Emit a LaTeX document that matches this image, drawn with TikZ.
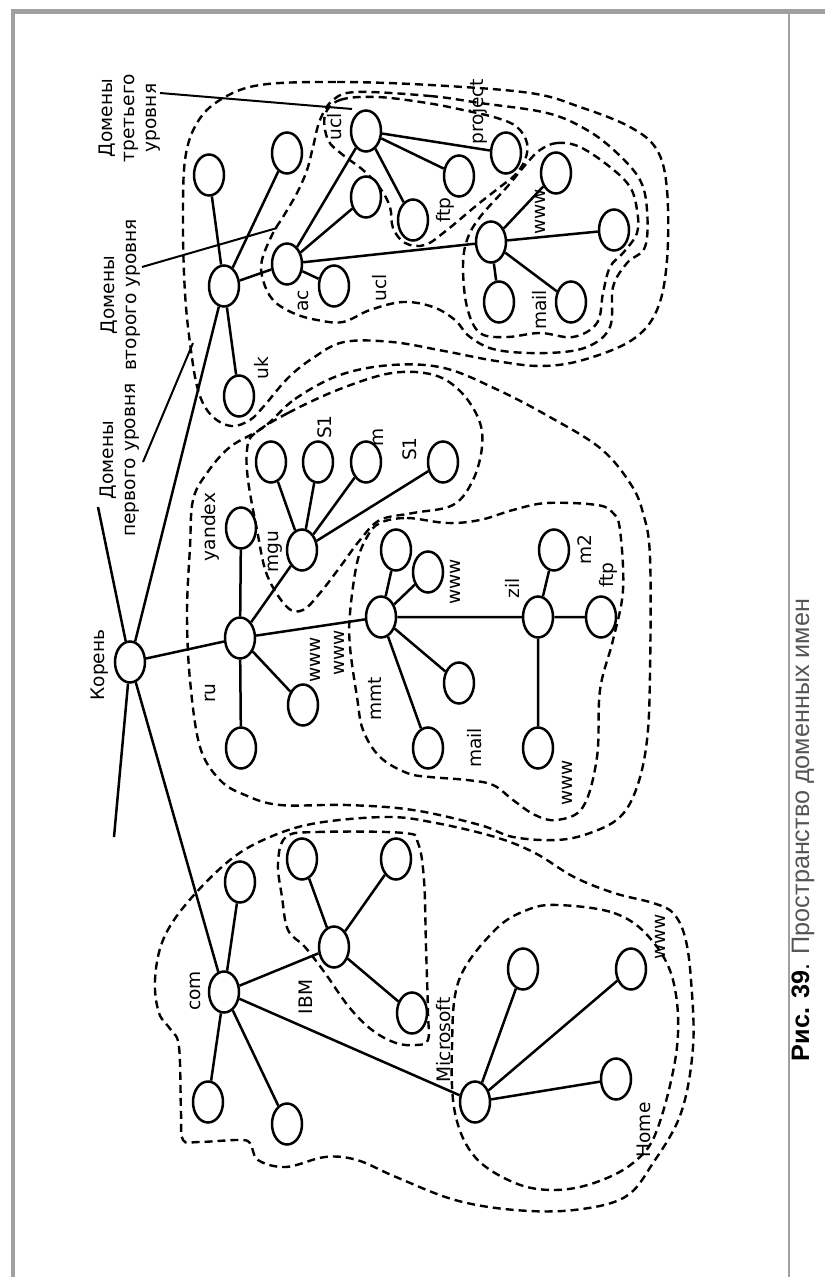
\documentclass[tikz,border=0pt]{standalone}
\usepackage{fontspec}
\setmainfont{DejaVu Sans}
\newfontfamily\capfont{Liberation Sans}
\usetikzlibrary{shapes.geometric}

\definecolor{framegray}{HTML}{A0A0A0}
\definecolor{capgray}{HTML}{555555}

\begin{document}
\begin{tikzpicture}[x=0.5pt, y=-0.5pt, line width=1.25pt,
        dom/.style={draw, ellipse, fill=white, minimum width=15pt, minimum height=20.5pt, inner sep=0pt},
        lbl/.style={rotate=90, font=\fontsize{9.3}{11}\selectfont, inner sep=0pt},
        side/.style={lbl, align=center},
        zone/.style={line width=1.2pt, dash pattern=on 4pt off 2.5pt},
        pointer/.style={line width=1pt}]
      \useasboundingbox (0,0) rectangle (825,1277);
      % page frame
      \fill[framegray] (11,9) rectangle (825,14);
      \fill[framegray] (11,9) rectangle (15,1277);
      \draw[framegray, line width=0.75pt] (789,14) -- (789,1277);

      % zones
      \draw[zone] plot[smooth cycle, tension=0.6] coordinates {(260,85) (337,82) (430,85) (530,93) (580,107) (630,127) (657,150) (667,190) (667,260) (657,310) (632,340) (583,360) (541,366) (496,361) (444,351) (392,342) (344,342) (313,358) (288,378) (264,406) (250,420) (231,426) (211,415) (198,390) (190,343) (185,293) (183,227) (185,160) (197,123) (220,100)};
      \draw[zone] plot[smooth cycle, tension=0.6] coordinates {(357,92) (430,96) (480,103) (547,113) (587,130) (617,153) (640,180) (647,210) (645,247) (627,263) (613,287) (610,327) (587,347) (547,353) (497,350) (470,337) (455,320) (433,307) (403,302) (370,310) (343,322) (317,320) (293,313) (273,300) (263,280) (262,260) (273,233) (283,217) (297,193) (307,170) (313,147) (320,120) (333,100)};
      \draw[zone] plot[smooth cycle, tension=0.6] coordinates {(325,115) (340,100) (377,97) (427,103) (463,110) (497,118) (517,127) (527,143) (525,160) (515,175) (500,187) (477,205) (447,230) (425,245) (405,243) (393,228) (390,207) (380,188) (363,170) (343,155) (328,140)};
      \draw[zone] plot[smooth cycle, tension=0.6] coordinates {(540,150) (557,143) (580,147) (610,167) (630,187) (637,210) (637,233) (623,253) (610,267) (603,293) (597,323) (573,337) (540,333) (507,337) (480,333) (467,307) (463,267) (467,240) (480,217) (507,187) (527,163)};
      \draw[zone] plot[smooth cycle, tension=0.6] coordinates {(264,427) (295,399) (340,375) (392,365) (444,368) (496,389) (548,416) (600,448) (630,483) (643,513) (650,557) (650,673) (647,740) (637,787) (620,817) (590,833) (557,840) (513,837) (480,825) (413,810) (347,805) (280,805) (245,795) (220,780) (200,747) (190,680) (187,613) (190,547) (193,500) (207,473) (230,447)};
      \draw[zone] plot[smooth cycle, tension=0.6] coordinates {(254,434) (288,413) (340,389) (392,373) (434,375) (461,392) (479,420) (482,447) (473,480) (453,505) (413,513) (380,520) (360,540) (340,567) (320,593) (303,610) (287,607) (267,575) (257,530) (248,480) (247,450)};
      \draw[zone] plot[smooth cycle, tension=0.6] coordinates {(380,523) (407,518) (447,523) (480,520) (513,510) (547,503) (597,505) (613,513) (620,530) (623,590) (613,640) (600,690) (597,757) (583,807) (557,820) (535,815) (513,800) (493,785) (467,780) (430,777) (407,773) (380,757) (363,730) (357,697) (350,647) (350,613) (357,563) (367,537)};
      \draw[zone] plot[smooth cycle, tension=0.6] coordinates {(230,860) (270,837) (317,823) (388,817) (436,823) (495,837) (535,853) (574,877) (614,893) (653,903) (673,913) (685,937) (691,980) (693,1047) (681,1113) (653,1163) (625,1197) (574,1210) (515,1210) (455,1200) (396,1177) (357,1160) (325,1157) (286,1167) (258,1160) (250,1143) (238,1140) (199,1142) (183,1140) (181,1113) (179,1047) (171,1030) (159,1013) (155,980) (163,940) (187,903)};
      \draw[zone] plot[smooth cycle, tension=0.6] coordinates {(286,837) (317,832) (404,833) (418,843) (424,880) (426,947) (428,1013) (428,1040) (416,1045) (396,1043) (372,1030) (349,1007) (325,973) (305,947) (288,930) (282,897) (278,863)};
      \draw[zone] plot[smooth cycle, tension=0.6] coordinates {(558,905) (614,913) (649,937) (673,980) (677,1047) (657,1130) (633,1163) (594,1183) (554,1190) (515,1183) (475,1157) (455,1113) (452,1047) (459,980) (495,930) (527,910)};

      % domains
      \node[dom] (root) at (130,662) {};
      \node[dom] (uk) at (224,286) {};
      \node[dom] (ukA) at (209,175) {};
      \node[dom] (ukB) at (287,153) {};
      \node[dom] (ukC) at (239,396) {};
      \node[dom] (ac) at (287,264) {};
      \node[dom] (acA) at (334,286) {};
      \node[dom] (acB) at (366,197) {};
      \node[dom] (ucl) at (366,131) {};
      \node[dom] (uclA) at (413,220) {};
      \node[dom] (uclB) at (459,176) {};
      \node[dom] (uclC) at (506,153) {};
      \node[dom] (uclm) at (491,242) {};
      \node[dom] (uclmA) at (556,173) {};
      \node[dom] (uclmB) at (614,230) {};
      \node[dom] (uclmC) at (499,302) {};
      \node[dom] (uclmD) at (571,302) {};
      \node[dom] (ru) at (240,638) {};
      \node[dom] (yandex) at (241,528) {};
      \node[dom] (ruB) at (241,748) {};
      \node[dom] (ruW) at (303,705) {};
      \node[dom] (mgu) at (302,550) {};
      \node[dom] (mguA) at (271,462) {};
      \node[dom] (mguB) at (318,462) {};
      \node[dom] (mguC) at (366,462) {};
      \node[dom] (mguD) at (443,462) {};
      \node[dom] (mmt) at (381,617) {};
      \node[dom] (mmtA) at (396,550) {};
      \node[dom] (mmtB) at (428,572) {};
      \node[dom] (mmtC) at (459,683) {};
      \node[dom] (mmtD) at (428,748) {};
      \node[dom] (zil) at (538,617) {};
      \node[dom] (zilA) at (554,550) {};
      \node[dom] (zilB) at (601,617) {};
      \node[dom] (zilC) at (538,748) {};
      \node[dom] (com) at (224,992) {};
      \node[dom] (comA) at (240,882) {};
      \node[dom] (comB) at (208,1102) {};
      \node[dom] (comC) at (287,1124) {};
      \node[dom] (ibm) at (334,947) {};
      \node[dom] (ibmA) at (302,859) {};
      \node[dom] (ibmB) at (396,859) {};
      \node[dom] (ibmC) at (412,1013) {};
      \node[dom] (ms) at (475,1102) {};
      \node[dom] (msA) at (523,969) {};
      \node[dom] (msB) at (631,969) {};
      \node[dom] (msC) at (616,1079) {};
      \coordinate (rootup) at (98,507);
      \coordinate (rootdown) at (114,837);

      % links
      \draw (root) -- (uk) (root) -- (ru) (root) -- (com) (root) -- (rootup) (root) -- (rootdown);
      \draw (uk) -- (ukA) (uk) -- (ukB) (uk) -- (ukC) (uk) -- (ac);
      \draw (ac) -- (acA) (ac) -- (acB) (ac) -- (ucl) (ac) -- (uclm);
      \draw (ucl) -- (uclA) (ucl) -- (uclB) (ucl) -- (uclC);
      \draw (uclm) -- (uclmA) (uclm) -- (uclmB) (uclm) -- (uclmC) (uclm) -- (uclmD);
      \draw (ru) -- (yandex) (ru) -- (ruB) (ru) -- (ruW) (ru) -- (mgu) (ru) -- (mmt);
      \draw (mgu) -- (mguA) (mgu) -- (mguB) (mgu) -- (mguC) (mgu) -- (mguD);
      \draw (mmt) -- (mmtA) (mmt) -- (mmtB) (mmt) -- (mmtC) (mmt) -- (mmtD) (mmt) -- (zil);
      \draw (zil) -- (zilA) (zil) -- (zilB) (zil) -- (zilC);
      \draw (com) -- (comA) (com) -- (comB) (com) -- (comC) (com) -- (ibm) (com) -- (ms);
      \draw (ibm) -- (ibmA) (ibm) -- (ibmB) (ibm) -- (ibmC);
      \draw (ms) -- (msA) (ms) -- (msB) (ms) -- (msC);

      % level captions and their pointers
      \node[side] (lev1) at (120,460) {Домены\\первого уровня};
      \node[side] (lev2) at (121,295) {Домены\\второго уровня};
      \node[side] (lev3) at (130,118) {Домены\\третьего\\уровня};
      \coordinate (lev1a) at (143,462);
      \coordinate (lev1b) at (193,343);
      \coordinate (lev2a) at (142,267);
      \coordinate (lev2b) at (277,228);
      \coordinate (lev3a) at (160,93);
      \coordinate (lev3b) at (352,109);
      \draw[pointer] (lev1a) -- (lev1b);
      \draw[pointer] (lev2a) -- (lev2b);
      \draw[pointer] (lev3a) -- (lev3b);

      % names
      \node[lbl] (tRoot) at (100,665) {Корень};
      \node[lbl] (tUk) at (262,368) {uk};
      \node[lbl] (tAc) at (303,301) {ac};
      \node[lbl] (tUcl) at (335,127) {ucl};
      \node[lbl] (tUcl2) at (380,288) {ucl};
      \node[lbl] (tProject) at (478,112) {project};
      \node[lbl] (tFtp) at (445,210) {ftp};
      \node[lbl] (tWww) at (540,212) {www};
      \node[lbl] (tMail) at (540,310) {mail};
      \node[lbl] (tYandex) at (210,527) {yandex};
      \node[lbl] (tRu) at (210,693) {ru};
      \node[lbl] (tMgu) at (275,552) {mgu};
      \node[lbl] (tS1) at (325,427) {S1};
      \node[lbl] (tM) at (378,437) {m};
      \node[lbl] (tS1b) at (410,449) {S1};
      \node[lbl] (tWww2) at (315,660) {www};
      \node[lbl] (tWww3) at (339,653) {www};
      \node[lbl] (tMmt) at (375,699) {mmt};
      \node[lbl] (tWww4) at (455,582) {www};
      \node[lbl] (tMail2) at (475,748) {mail};
      \node[lbl] (tZil) at (512,588) {zil};
      \node[lbl] (tM2) at (585,550) {m2};
      \node[lbl] (tFtp2) at (608,575) {ftp};
      \node[lbl] (tWww5) at (567,783) {www};
      \node[lbl] (tCom) at (195,991) {com};
      \node[lbl] (tIbm) at (306,997) {IBM};
      \node[lbl] (tMs) at (444,1040) {Microsoft};
      \node[lbl] (tWww6) at (660,937) {www};
      \node[lbl] (tHome) at (644,1130) {Home};

      % figure caption
      \node[rotate=90, inner sep=0pt, font=\capfont\fontsize{12.6}{15}\selectfont] (caption) at (803,830)
        {\textbf{Рис. 39}. \textcolor{capgray}{Пространство доменных имен}};
    \end{tikzpicture}
\end{document}
